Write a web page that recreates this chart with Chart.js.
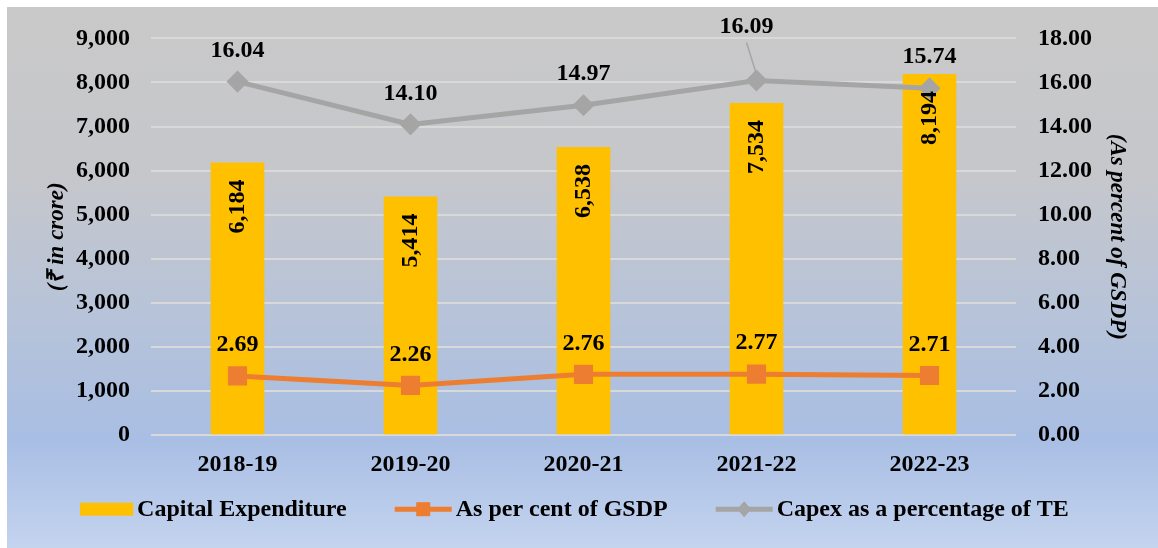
<!DOCTYPE html>
<html>
<head>
<meta charset="utf-8">
<title>Capital Expenditure</title>
<script src="https://cdn.jsdelivr.net/npm/chart.js@4.4.0/dist/chart.umd.min.js"></script>
<style>
  body { margin: 0; background: #fff; }
  #wrap {
    position: absolute;
    left: 7px;
    top: 7px;
    width: 1151px;
    height: 541px;
    background: linear-gradient(to bottom, #c9c9c9 0%, #c6c7cb 30%, #b6c3d9 58%, #a9bee4 80%, #c4d4ef 100%);
  }
  #chart { position: absolute; left: 0; top: -5px; }
</style>
</head>
<body>
<div id="wrap"><canvas id="chart" width="1151" height="546"></canvas></div>
<script>
const years = ["2018-19", "2019-20", "2020-21", "2021-22", "2022-23"];
const capex = [6184, 5414, 6538, 7534, 8194];
const gsdpShare = [2.69, 2.26, 2.76, 2.77, 2.71];
const teShare = [16.04, 14.10, 14.97, 16.09, 15.74];
const croreTicks = [0, 1000, 2000, 3000, 4000, 5000, 6000, 7000, 8000, 9000];
const percentTicks = [0, 2, 4, 6, 8, 10, 12, 14, 16, 18];

const FONT = '"Liberation Serif", "Times New Roman", serif';
const YELLOW = "#FFC000";
const ORANGE = "#ED7D31";
const GREY = "#A5A5A5";

const boldFont = { family: FONT, size: 24, weight: "bold" };
const titleFont = { family: FONT, size: 23, weight: "bold", style: "italic" };

function fmtCrore(v) {
  return Number(v).toLocaleString("en-US");
}

function fmtPct(v) {
  return Number(v).toFixed(2);
}

// numbers on bars (rotated) and above line points
const valueLabels = {
  id: "valueLabels",
  afterDatasetsDraw(chart) {
    const ctx = chart.ctx;
    ctx.save();
    ctx.font = `bold 24px ${FONT}`;
    ctx.fillStyle = "#000";
    chart.data.datasets.forEach((ds, i) => {
      const meta = chart.getDatasetMeta(i);
      meta.data.forEach((el, j) => {
        const v = ds.data[j];
        if (ds.type === "bar") {
          ctx.save();
          ctx.translate(el.x, el.y + 17);
          ctx.rotate(-Math.PI / 2);
          ctx.textAlign = "right";
          ctx.textBaseline = "middle";
          ctx.fillText(fmtCrore(v), 0, 0);
          ctx.restore();
          return;
        }
        ctx.textAlign = "center";
        ctx.textBaseline = "middle";
        if (ds.calloutIndex === j) {
          const lx = el.x - 10;
          const ly = el.y - 54;
          ctx.save();
          ctx.strokeStyle = ds.borderColor;
          ctx.lineWidth = 1.5;
          ctx.beginPath();
          ctx.moveTo(lx, ly + 16);
          ctx.lineTo(el.x, el.y - 6);
          ctx.stroke();
          ctx.restore();
          ctx.fillText(fmtPct(v), lx, ly);
        } else {
          ctx.fillText(fmtPct(v), el.x, el.y - 31);
        }
      });
    });
    ctx.restore();
  }
};

function drawSymbol(ctx, ds, x, cy) {
  if (ds.type === "bar") {
    ctx.fillStyle = ds.backgroundColor;
    ctx.fillRect(x, cy - 6.5, 53, 13);
    return;
  }
  const w = 57;
  ctx.strokeStyle = ds.borderColor;
  ctx.lineWidth = 5;
  ctx.beginPath();
  ctx.moveTo(x, cy);
  ctx.lineTo(x + w, cy);
  ctx.stroke();
  ctx.fillStyle = ds.borderColor;
  const mx = x + w / 2;
  if (ds.pointStyle === "rect") {
    ctx.fillRect(mx - 7, cy - 7, 14, 14);
  } else {
    ctx.beginPath();
    ctx.moveTo(mx, cy - 8);
    ctx.lineTo(mx + 7, cy);
    ctx.lineTo(mx, cy + 8);
    ctx.lineTo(mx - 7, cy);
    ctx.closePath();
    ctx.fill();
  }
}

const bottomLegend = {
  id: "bottomLegend",
  afterDraw(chart) {
    const ctx = chart.ctx;
    ctx.save();
    ctx.font = `bold 24px ${FONT}`;
    const gapText = 4;
    const gapItem = 48;
    const items = chart.data.datasets.map((ds) => ({
      ds,
      symW: ds.type === "bar" ? 53 : 57,
      textW: ctx.measureText(ds.label).width
    }));
    const total = items.reduce((s, it) => s + it.symW + gapText + it.textW, 0) + gapItem * (items.length - 1);
    let x = chart.width / 2 - 8 - total / 2;
    const cy = chart.chartArea.bottom + 74;
    items.forEach((it) => {
      drawSymbol(ctx, it.ds, x, cy);
      x += it.symW + gapText;
      ctx.fillStyle = "#000";
      ctx.textAlign = "left";
      ctx.textBaseline = "middle";
      ctx.fillText(it.ds.label, x, cy + 1);
      x += it.textW + gapItem;
    });
    ctx.restore();
  }
};

const ctx = document.getElementById("chart").getContext("2d");

new Chart(ctx, {
  data: {
    labels: years,
    datasets: [
      {
        type: "bar",
        label: "Capital Expenditure",
        data: capex,
        yAxisID: "y",
        backgroundColor: YELLOW,
        barPercentage: 0.31,
        categoryPercentage: 1,
        order: 3
      },
      {
        type: "line",
        label: "As per cent of GSDP",
        data: gsdpShare,
        yAxisID: "y1",
        borderColor: ORANGE,
        backgroundColor: ORANGE,
        borderWidth: 5,
        pointStyle: "rect",
        pointRadius: 10,
        pointHoverRadius: 10,
        tension: 0,
        order: 1
      },
      {
        type: "line",
        label: "Capex as a percentage of TE",
        data: teShare,
        yAxisID: "y1",
        borderColor: GREY,
        backgroundColor: GREY,
        borderWidth: 5,
        pointStyle: "rectRot",
        pointRadius: 7.5,
        pointHoverRadius: 7.5,
        tension: 0,
        calloutIndex: 3,
        order: 2
      }
    ]
  },
  options: {
    responsive: false,
    devicePixelRatio: 1,
    animation: false,
    layout: {
      padding: { top: 25, bottom: 54, left: 0, right: 0 }
    },
    plugins: {
      legend: { display: false },
      tooltip: { enabled: false }
    },
    scales: {
      x: {
        offset: true,
        grid: { display: false, drawTicks: false },
        border: { display: false },
        ticks: { font: boldFont, color: "#000", padding: 15 }
      },
      y: {
        position: "left",
        min: 0,
        max: 9000,
        afterBuildTicks: (s) => {
          s.ticks = croreTicks.map((v) => ({ value: v }));
        },
        afterFit: (s) => {
          s.width = 144;
        },
        grid: { color: "#D9D9D9", lineWidth: 2, drawTicks: false },
        border: { display: false },
        ticks: { font: boldFont, color: "#000", padding: 21, callback: (v) => fmtCrore(v) },
        title: { display: true, text: "(₹ in crore)", font: titleFont, color: "#000", padding: { top: 36, bottom: 0 } }
      },
      y1: {
        position: "right",
        min: 0,
        max: 18,
        afterBuildTicks: (s) => {
          s.ticks = percentTicks.map((v) => ({ value: v }));
        },
        afterFit: (s) => {
          s.width = 142;
        },
        grid: { display: false, drawTicks: false },
        border: { display: false },
        ticks: { font: boldFont, color: "#000", padding: 22, callback: (v) => fmtPct(v) },
        title: { display: true, text: "(As percent of GSDP)", font: titleFont, color: "#000", padding: { top: 27, bottom: 0 } }
      }
    }
  },
  plugins: [valueLabels, bottomLegend]
});
</script>
</body>
</html>
